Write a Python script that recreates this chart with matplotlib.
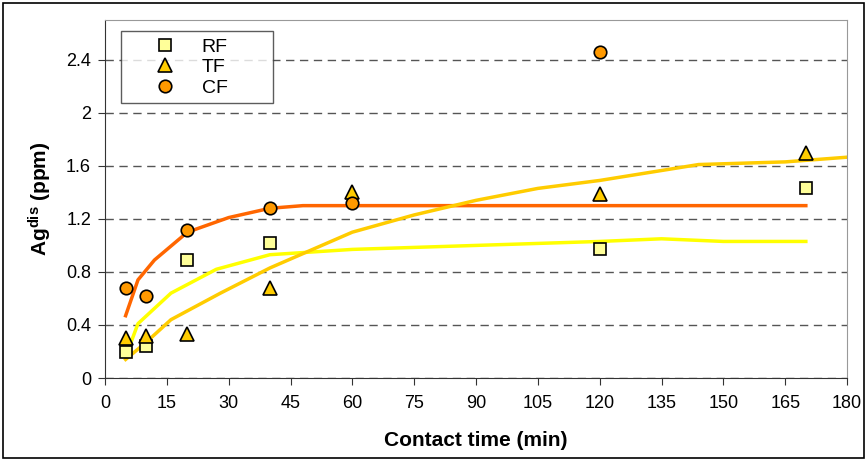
import numpy as np
import matplotlib
matplotlib.use('Agg')
import matplotlib.pyplot as plt
from matplotlib.patches import Rectangle
from matplotlib.ticker import FuncFormatter

plt.rcParams['font.family'] = ['Liberation Sans', 'DejaVu Sans']
plt.rcParams['mathtext.fontset'] = 'custom'
plt.rcParams['mathtext.rm'] = 'Liberation Sans'
plt.rcParams['mathtext.bf'] = 'Liberation Sans:bold'

# measured points
t_rf = [5, 10, 20, 40, 120, 170]
rf = [0.20, 0.24, 0.89, 1.02, 0.97, 1.43]
t_tf = [5, 10, 20, 40, 60, 120, 170]
tf = [0.30, 0.32, 0.33, 0.68, 1.40, 1.39, 1.70]
t_cf = [5, 10, 20, 40, 60, 120]
cf = [0.68, 0.62, 1.12, 1.28, 1.32, 2.46]

# fitted curves
fit_cf_t = [5, 8, 12, 20, 30, 40, 48, 60, 90, 120, 150, 170]
fit_cf = [0.47, 0.74, 0.89, 1.10, 1.21, 1.28, 1.30, 1.30, 1.30, 1.30, 1.30, 1.30]
fit_rf_t = [5, 8, 16, 27, 40, 60, 90, 120, 135, 150, 170]
fit_rf = [0.16, 0.41, 0.64, 0.82, 0.93, 0.97, 1.00, 1.03, 1.05, 1.03, 1.03]
fit_tf_t = [5, 10, 16, 28, 40, 60, 75, 90, 105, 120, 144, 165, 182]
fit_tf = [0.14, 0.27, 0.44, 0.64, 0.83, 1.10, 1.23, 1.34, 1.43, 1.49, 1.61, 1.63, 1.67]

fig = plt.figure(figsize=(8.67, 4.61), dpi=100)
ax = fig.add_axes([0.1211, 0.180, 0.8559, 0.7766])

ax.plot(fit_cf_t, fit_cf, color='#FF6600', lw=2.5, zorder=2)
ax.plot(fit_rf_t, fit_rf, color='#FFFF00', lw=2.5, zorder=2)
ax.plot(fit_tf_t, fit_tf, color='#FFCC00', lw=2.5, zorder=2)

ax.plot(t_rf, rf, 's', ms=9, mfc='#FFFF99', mec='black', mew=1.2, label='RF', zorder=3)
ax.plot(t_tf, tf, '^', ms=10, mfc='#FFCC00', mec='black', mew=1.2, label='TF', zorder=3)
ax.plot(t_cf, cf, 'o', ms=9, mfc='#FF9900', mec='black', mew=1.2, label='CF', zorder=3)

ax.set_xlim(0, 180)
ax.set_ylim(0, 2.7)
ax.set_xticks(np.arange(0, 181, 15))
ax.set_yticks(np.arange(0, 2.41, 0.4))
ax.yaxis.set_major_formatter(FuncFormatter(lambda v, p: '%g' % round(v, 1)))
ax.grid(axis='y', color='#555555', ls=(0, (6, 4)), lw=1)
ax.set_axisbelow(True)

ax.spines['top'].set_color('#999999')
ax.spines['right'].set_color('#999999')
ax.spines['left'].set_color('#333333')
ax.spines['bottom'].set_color('#333333')
ax.tick_params(direction='out', length=5, labelsize=13, color='#333333')
ax.tick_params(axis='x', pad=7)
ax.tick_params(axis='y', pad=5)

ax.set_xlabel('Contact time (min)', fontsize=15, fontweight='bold', labelpad=14)
ax.set_ylabel(r'$\mathbf{Ag^{dis}}$ (ppm)', fontsize=15, fontweight='bold', labelpad=9)

leg = ax.legend(loc='upper left', bbox_to_anchor=(0.0216, 0.768, 0.2048, 0.201),
                mode='expand', fontsize=14,
                frameon=True, fancybox=False, edgecolor='#333333',
                handletextpad=0.0, borderpad=0.35, labelspacing=0.15,
                handlelength=3.8, borderaxespad=0)
leg.get_frame().set_linewidth(1)

fig.add_artist(Rectangle((0.004, 0.006), 0.992, 0.988, transform=fig.transFigure,
                         fill=False, edgecolor='black', lw=1.2))

fig.savefig('out.png', dpi=100)
